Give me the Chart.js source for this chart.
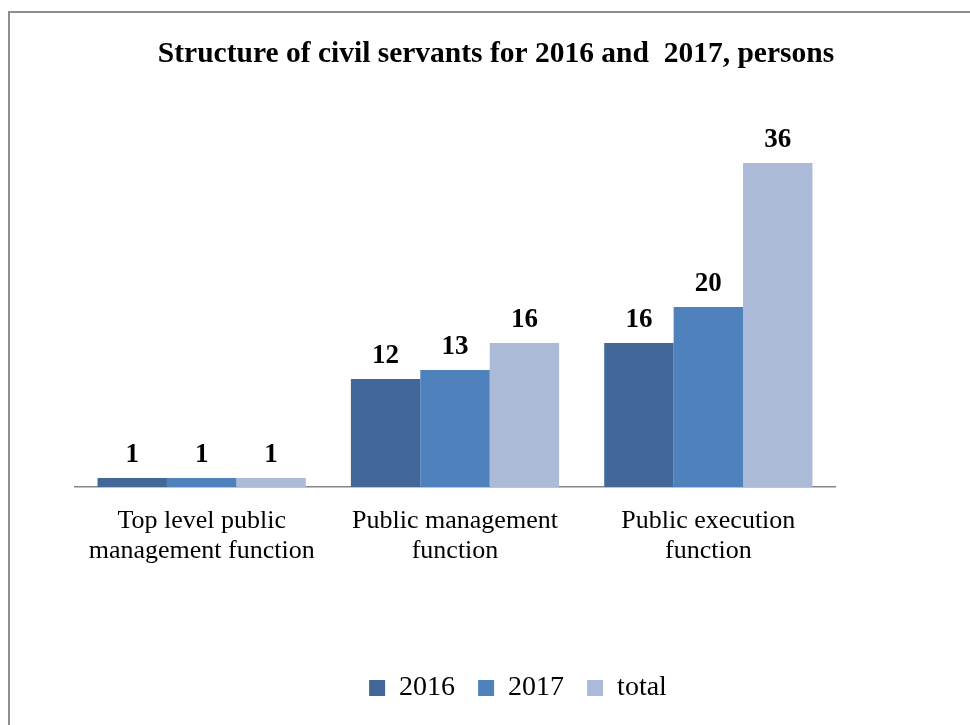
<!DOCTYPE html>
<html><head><meta charset="utf-8">
<script src="https://cdn.jsdelivr.net/npm/chart.js@4"></script>
<style>
html,body{margin:0;padding:0;background:#fff;overflow:hidden;width:970px;height:725px;}
#frame{position:absolute;left:8px;top:11px;width:1000px;height:800px;border:2px solid #8e8e8e;box-sizing:border-box;}
#c{position:absolute;left:0;top:0;}
</style></head><body>
<div id="frame"></div>
<canvas id="c" width="970" height="725"></canvas>
<script>
const categories = [["Top level public","management function"],["Public management","function"],["Public execution","function"]];
const seriesNames = ["2016","2017","total"];
const values2016 = [1,12,16];
const values2017 = [1,13,20];
const valuesTotal = [1,16,36];
const chartTitle = "Structure of civil servants for 2016 and  2017, persons";
const seriesColors = ["#416899","#4F81BD","#AABAD7"];
const serif = '"Liberation Serif", "Times New Roman", serif';

const shiftPlugin = {
  id: 'shift',
  afterLayout(chart) {
    const t = chart.titleBlock;
    const dx = 496 - (t.left + t.right) / 2; t.left += dx; t.right += dx;
    const l = chart.legend;
    const dl = 518 - (l.left + l.right) / 2; l.left += dl; l.right += dl;
    l.top += 2; l.bottom += 2;
  }
};
const valueLabels = {
  id: 'valueLabels',
  afterDatasetsDraw(chart) {
    const ctx = chart.ctx; ctx.save();
    ctx.font = 'bold 27px ' + serif; ctx.fillStyle = '#000';
    ctx.textAlign = 'center'; ctx.textBaseline = 'alphabetic';
    chart.data.datasets.forEach((ds, i) => {
      chart.getDatasetMeta(i).data.forEach((bar, j) => {
        ctx.fillText(String(ds.data[j]), bar.x, bar.y - 16);
      });
    });
    ctx.restore();
  }
};

const allValues = [values2016, values2017, valuesTotal];
new Chart(document.getElementById('c'), {
  type: 'bar',
  data: {
    labels: categories,
    datasets: seriesNames.map((n, i) => ({
      label: n, data: allValues[i], backgroundColor: seriesColors[i],
      categoryPercentage: 0.822, barPercentage: 1.0, borderWidth: 0
    }))
  },
  options: {
    responsive: false, animation: false, devicePixelRatio: 1,
    layout: { padding: { left: 75, right: 135, top: 10, bottom: 15 } },
    plugins: {
      title: { display: true, text: chartTitle, color: '#000',
        font: { family: serif, size: 29.5, weight: 'bold', lineHeight: 1.2 },
        padding: { top: 26.6, bottom: 55 } },
      legend: { position: 'bottom',
        labels: { color: '#000', font: { family: serif, size: 28 }, boxWidth: 16, boxHeight: 16, padding: 23 } },
      tooltip: { enabled: false }
    },
    scales: {
      x: { grid: { display: false, drawTicks: false },
        border: { display: true, color: '#868686', width: 1.5 },
        ticks: { color: '#000', font: { family: serif, size: 26, lineHeight: 1.15 }, padding: 19, maxRotation: 0, autoSkip: false },
        afterFit: s => { s.height = 162; } },
      y: { display: false, min: 0, max: 40 }
    }
  },
  plugins: [shiftPlugin, valueLabels]
});
</script>
</body></html>
